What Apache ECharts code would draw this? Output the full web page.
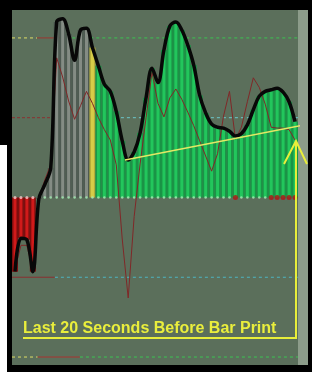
<!DOCTYPE html>
<html>
<head>
<meta charset="utf-8">
<script src="https://cdn.jsdelivr.net/npm/echarts@6/dist/echarts.min.js"></script>
<style>
html,body{margin:0;padding:0;background:#000;}
#main{width:312px;height:372px;}
</style>
</head>
<body>
<div id="main"></div>
<script>
// cci histogram + thick line, one value per bar (left to right)
let cci = [-93,-51,-53,-93,-2,16,37,220,224,205,172,210,212,188,165,142,133,108,71,47,57,81,125,162,144,185,215,220,210,191,166,128,106,92,88,87,83,77,80,91,110,127,133,135,137,132,120,95]
// turbo cci (thin brown line)
let tcci = [-90,-60,-60,-92,-3,22,41,175,151,121,98,115,133,118,100,85,72,41,-52,-126,-24,42,100,157,118,101,125,136,123,107,90,71,52,33,55,102,133,73,88,120,150,138,117,88,87,87,85,72]
// bar colour class: r = red, n = neutral grey, y = yellow, g = green
let barType = ['r','r','r','r','n','n','n','n','n','n','n','n','n','y',
  'g','g','g','g','g','g','g','g','g','g','g','g','g','g','g','g','g','g','g','g','g','g','g','g','g','g','g','g','g','g','g','g','g','g']
// zero line dots: w = white, g = green, r = red
let dotType = ['w','w','w','w','g','g','g','g','g','g','g','g','g','g','g','g','g','g','g','g','g','g','g','g','g','g','g','g','g','g','g','g','g','g','g','g','g','r','g','g','g','g','g','r','r','r','r','r']
let levels = [200, 100, -100, -200]
// trend line drawn on the indicator (bar position, value)
let trendX = [18.97, 49.7]
let trendY = [47, 92]

let barColors = {
  r: ['#7c0e0e', '#d01a1a'],
  n: ['#4e5a52', '#848c84'],
  y: ['#b4ac38', '#d6cc48'],
  g: ['#1a9446', '#22c65c']
}
let dotColors = {w: '#f4d0d0', g: '#a6f0b6', r: '#b01414'}
// colour segments of every level line, in bar units
let levelSegs = [
  [[0, 4.2, '#dcdc66', [3,3]], [4.2, 8.1, '#9a3630', 'solid'], [8.1, 48, '#3cc452', [3,3]]],
  [[0, 7.2, '#8a3030', [3,2]], [7.2, 48, '#6cc8cc', [3,3]]],
  [[0, 7.2, '#8a3030', 'solid'], [7.2, 48, '#4cb4c0', [3,3]]],
  [[0, 4.3, '#dcdc66', [3,3]], [4.3, 11.4, '#a83430', 'solid'], [11.4, 48, '#3cc452', [3,3]]]
]

let series = []
levelSegs.forEach((segs, k) => {
  segs.forEach(s => {
    series.push({
      type: 'line', z: 1, silent: true, showSymbol: false,
      data: [[s[0], levels[k]], [s[1], levels[k]]],
      lineStyle: {color: s[2], width: 1, type: s[3]}
    })
  })
})

series.push({
  type: 'bar', xAxisIndex: 0, z: 2, barWidth: 6,
  data: cci.map((v, i) => ({value: [i + 0.5, v], itemStyle: {color: barColors[barType[i]][0]}}))
})
series.push({
  type: 'bar', xAxisIndex: 1, z: 3, barWidth: 3,
  data: cci.map((v, i) => ({value: [i + 0.5, v], itemStyle: {color: barColors[barType[i]][1]}}))
})
series.push({
  type: 'scatter', z: 4, symbol: 'circle',
  data: dotType.map((t, i) => ({
    value: [i + 0.5, 0],
    symbolSize: t == 'r' ? 5 : (t == 'w' ? 3 : 2.5),
    itemStyle: {color: dotColors[t]}
  }))
})
series.push({
  type: 'line', z: 5, showSymbol: false,
  data: tcci.map((v, i) => [i + 0.5, v]),
  lineStyle: {color: '#802828', width: 1}
})
series.push({
  type: 'line', z: 6, showSymbol: false, smooth: 0.35,
  data: cci.map((v, i) => [i + 0.5, v]),
  lineStyle: {color: '#080808', width: 3.5}
})
series.push({
  type: 'line', z: 7, showSymbol: false, clip: false,
  data: trendX.map((x, i) => [x, trendY[i]]),
  lineStyle: {color: '#e4e864', width: 1.5}
})

let options = {
  backgroundColor: '#000',
  animation: false,
  grid: {left: 12, right: 14, top: 10, bottom: 7, show: true, backgroundColor: '#5b6f5b', borderWidth: 0},
  xAxis: [
    {type: 'value', min: 0, max: 48, show: false},
    {type: 'value', min: 0, max: 48, show: false}
  ],
  yAxis: {type: 'value', min: -210, max: 235, show: false},
  graphic: [
    {type: 'rect', z: 0, shape: {x: 298, y: 10, width: 10, height: 355}, style: {fill: '#8c9c8a'}},
    {type: 'rect', z: 0, shape: {x: 0, y: 145, width: 7, height: 227}, style: {fill: '#fff'}},
    {type: 'polyline', z: 100, shape: {points: [[23, 338], [296, 338], [296, 142]]},
      style: {stroke: '#e8ee3a', lineWidth: 2, fill: null}},
    {type: 'polyline', z: 100, shape: {points: [[284, 164], [296, 141], [307, 164]]},
      style: {stroke: '#e8ee3a', lineWidth: 2, fill: null}},
    {type: 'text', z: 100, style: {
      text: 'Last 20 Seconds Before Bar Print', x: 23, y: 329,
      verticalAlign: 'middle', fill: '#eaee3c',
      font: 'bold 16px "Liberation Sans", Arial, sans-serif'
    }}
  ],
  series: series
}

let myChart = echarts.init(document.getElementById('main'))
myChart.setOption(options)
</script>
</body>
</html>
